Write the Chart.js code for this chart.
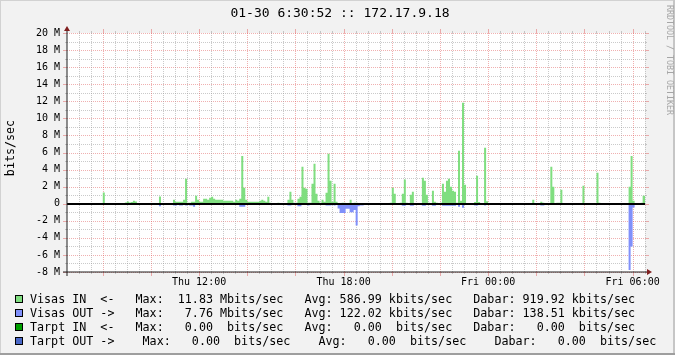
<!DOCTYPE html>
<html>
<head>
<meta charset="utf-8">
<script src="https://cdn.jsdelivr.net/npm/chart.js@4.4.1/dist/chart.umd.min.js"></script>
<style>
  html, body { margin: 0; padding: 0; background: #f2f2f2; }
  #wrap { width: 675px; height: 355px; position: relative; }
  canvas { display: block; }
</style>
</head>
<body>
<div id="wrap"><canvas id="c" width="675" height="355"></canvas></div>
<script>
// ---- text ----
const chartTitle = '01-30 6:30:52 :: 172.17.9.18';
const yAxisTitle = 'bits/sec';
const watermark = 'RRDTOOL / TOBI OETIKER';

// ---- axes (x in minutes since Thu 00:00, y in Mbit/s) ----
const xTickValues = [720, 1080, 1440, 1800];
const xTickLabels = ['Thu 12:00', 'Thu 18:00', 'Fri 00:00', 'Fri 06:00'];
const yTickValues = [-8, -6, -4, -2, 0, 2, 4, 6, 8, 10, 12, 14, 16, 18, 20];
const yTickLabels = ['-8 M', '-6 M', '-4 M', '-2 M', '0', '2 M', '4 M', '6 M', '8 M', '10 M', '12 M', '14 M', '16 M', '18 M', '20 M'];

// ---- series: step change points (minute, Mbit/s) ----
const inTimes = [390, 480, 485, 535, 540, 545, 550, 555, 560, 565, 620, 625,
  655, 660, 680, 685, 690, 700, 710, 715, 720, 730, 740, 745, 750, 755, 760, 780, 805, 810, 815, 820, 825, 830, 835, 840,
  870, 875, 880, 885, 890, 895, 900, 915, 920,
  940, 945, 950, 955, 965, 970, 975, 980, 985, 990, 1000, 1005, 1010, 1015, 1020, 1025, 1030, 1035, 1040, 1045, 1050, 1055, 1060,
  1065, 1075, 1085, 1095, 1100, 1105, 1115,
  1195, 1200, 1205, 1210, 1220, 1225, 1230, 1235, 1240, 1245, 1250, 1255,
  1275, 1280, 1285, 1290, 1295, 1300, 1305, 1310, 1315, 1320, 1325, 1330, 1335, 1340, 1345, 1350, 1355, 1360, 1365, 1370, 1375, 1380, 1385,
  1405, 1410, 1415, 1420, 1430, 1435, 1440,
  1550, 1555, 1570, 1575, 1580, 1595, 1600, 1605, 1610, 1620, 1625,
  1675, 1680, 1710, 1715, 1720,
  1790, 1795, 1800, 1805, 1820, 1825, 1835];
const inValues = [0, 1.3, 0, 0.15, 0.25, 0.15, 0.2, 0.35, 0.25, 0, 0.85, 0,
  0.47, 0.23, 0.47, 2.92, 0.12, 0.23, 0.94, 0.47, 0.23, 0.58, 0.47, 0.7, 0.82, 0.58, 0.47, 0.35, 0.23, 0.47, 0.35, 0.58, 5.6, 1.87, 0.47, 0.23,
  0.35, 0.47, 0.35, 0.23, 0.82, 0.12, 0, 0.12, 0,
  0.47, 1.4, 0.47, 0.1, 0.58, 0.82, 4.33, 1.87, 1.75, 0.12, 2.34, 4.68, 1.17, 0.35, 0.12, 0.47, 0.23, 1.29, 5.85, 2.69, 0.23, 2.34, 0.23,
  0, 0.12, 0, 0.47, 0, 0.12, 0,
  0.12, 1.87, 1.17, 0, 0.12, 1.17, 2.85, 0.12, 0, 1.05, 1.4, 0,
  3.04, 2.69, 1.05, 0.12, 0, 1.52, 0.23, 0.1, 0, 0.12, 2.34, 1.4, 2.69, 2.92, 1.99, 1.52, 1.4, 0.1, 6.2, 0.35, 11.83, 2.22, 0,
  0.2, 3.27, 0.2, 0, 6.55, 0.3, 0,
  0.47, 0, 0.23, 0.12, 0, 4.33, 1.99, 0, 0.12, 1.64, 0,
  2.1, 0, 3.63, 0.12, 0,
  1.99, 5.6, 0.35, 0, 0.12, 0.92, 0.92];

const outTimes = [390, 400, 475, 485, 535, 565, 620, 625,
  655, 665, 670, 680, 685, 690, 695, 705, 710, 720,
  820, 835, 870, 875, 880, 885, 890, 895, 905, 920,
  940, 950, 965, 975, 990, 995, 1035, 1050, 1055, 1060,
  1065, 1070, 1085, 1095, 1105, 1110, 1115, 1120, 1130,
  1225, 1235, 1245, 1255, 1275, 1285, 1300, 1310, 1325, 1360,
  1365, 1370, 1375, 1380, 1405, 1415, 1430, 1435,
  1570, 1580, 1675, 1680, 1710, 1715,
  1790, 1795, 1800, 1805, 1820, 1835];
const outValues = [0.15, 0, 0.15, 0, 0.15, 0, 0.3, 0,
  0.2, 0, 0.2, 0, 0.2, 0, 0.2, 0.35, 0.15, 0,
  0.35, 0, 0.15, 0, 0.15, 0, 0.15, 0, 0.15, 0,
  0.2, 0, 0.3, 0, 0.2, 0, 0.2, 0, 0.2, 0,
  0.55, 1.1, 0.6, 1.0, 0.75, 2.55, 0.3, 0.2, 0,
  0.23, 0, 0.23, 0, 0.23, 0, 0.23, 0, 0.23, 0,
  0.35, 0, 0.47, 0, 0.2, 0, 0.2, 0,
  0.2, 0, 0.15, 0, 0.15, 0,
  7.76, 5.0, 0.45, 0, 0.14, 0.14];

// ---- legend ----
const legendNames = ['Visas IN  <-', 'Visas OUT ->', 'Tarpt IN  <-', 'Tarpt OUT ->'];
const legendMax = ['11.83', '7.76', '0.00', '0.00'];
const legendMaxUnit = ['Mbits/sec', 'Mbits/sec', ' bits/sec', ' bits/sec'];
const legendAvg = ['586.99', '122.02', '0.00', '0.00'];
const legendAvgUnit = ['kbits/sec', 'kbits/sec', ' bits/sec', ' bits/sec'];
const legendLast = ['919.92', '138.51', '0.00', '0.00'];
const legendLastUnit = ['kbits/sec', 'kbits/sec', ' bits/sec', ' bits/sec'];
const legendShift = [0, 0, 0, 1];
const legendColors = ['#80de80', '#8090fa', '#00a000', '#4a68c8'];

const X_MIN = 390.87, X_MAX = 1830.87;
const MONO = '"DejaVu Sans Mono", monospace';
const GRID = 'rgba(150,150,150,0.5)';
const MGRID = 'rgba(222,79,79,0.45)';

function seg(ctx, x1, y1, x2, y2) { ctx.beginPath(); ctx.moveTo(x1, y1); ctx.lineTo(x2, y2); ctx.stroke(); }

const rrdPlugin = {
  id: 'rrd',
  beforeDraw(chart) {
    const { ctx, chartArea: a } = chart;
    const W = chart.width, H = chart.height;
    ctx.save();
    ctx.fillStyle = '#f2f2f2'; ctx.fillRect(0, 0, W, H);
    ctx.fillStyle = '#d2d2d2'; ctx.fillRect(0, 0, W, 1); ctx.fillRect(0, 0, 1, H);
    ctx.fillStyle = '#c6c6c6'; ctx.fillRect(W - 2, 0, 2, H);
    ctx.fillStyle = '#9e9e9e'; ctx.fillRect(0, H - 2, W, 2);
    ctx.fillStyle = '#ffffff'; ctx.fillRect(a.left, a.top, a.right - a.left, a.bottom - a.top);
    ctx.restore();
  },
  beforeDatasetsDraw(chart) {
    const { ctx, chartArea: a } = chart;
    const xs = chart.scales.x, ys = chart.scales.y;
    const L = a.left, R = a.right, T = a.top, B = a.bottom;
    ctx.save();
    ctx.lineWidth = 1;
    // horizontal grid
    for (let v = ys.min; v <= ys.max; v += 1) {
      const y = Math.round(ys.getPixelForValue(v)) + 0.5;
      const major = v % 2 === 0;
      const t = major ? 4 : 2;
      ctx.strokeStyle = major ? MGRID : GRID;
      ctx.setLineDash([]);
      seg(ctx, L - t, y, L, y); seg(ctx, R, y, R + t, y);
      ctx.setLineDash([1, 1]);
      seg(ctx, L, y, R, y);
    }
    // vertical grid
    for (let m = Math.ceil(xs.min / 30) * 30; m <= xs.max; m += 30) {
      const x = Math.round(xs.getPixelForValue(m)) + 0.5;
      const major = m % 120 === 0;
      const t = major ? 4 : 2;
      ctx.strokeStyle = major ? MGRID : GRID;
      ctx.setLineDash([]);
      seg(ctx, x, B, x, B + t); seg(ctx, x, T - t, x, T);
      ctx.setLineDash([1, 1]);
      seg(ctx, x, T, x, B);
    }
    ctx.restore();
  },
  afterDatasetsDraw(chart) {
    const { ctx, chartArea: a } = chart;
    const ys = chart.scales.y;
    const L = a.left, R = a.right, T = a.top, B = a.bottom;
    ctx.save();
    // zero line
    const y0 = Math.round(ys.getPixelForValue(0));
    ctx.strokeStyle = '#000'; ctx.lineWidth = 2;
    seg(ctx, L, y0, R, y0);
    // axes
    ctx.strokeStyle = '#1f1f1f'; ctx.lineWidth = 1;
    seg(ctx, L - 4, B, R + 4, B);
    seg(ctx, L, B + 4, L, T - 4);
    // arrows
    ctx.fillStyle = '#801f1f';
    ctx.beginPath(); ctx.moveTo(R + 2, B - 3); ctx.lineTo(R + 2, B + 3); ctx.lineTo(R + 7, B); ctx.closePath(); ctx.fill();
    ctx.beginPath(); ctx.moveTo(L - 3, T - 2); ctx.lineTo(L + 3, T - 2); ctx.lineTo(L, T - 7); ctx.closePath(); ctx.fill();
    ctx.restore();
  },
  afterDraw(chart) {
    const { ctx } = chart;
    ctx.save();
    ctx.fillStyle = '#000';
    // title
    ctx.font = '13px ' + MONO;
    ctx.textAlign = 'center'; ctx.textBaseline = 'middle';
    ctx.fillText(chartTitle, 340, 14);
    // y axis title
    ctx.save();
    ctx.translate(11, 148); ctx.rotate(-Math.PI / 2);
    ctx.font = '11.7px ' + MONO;
    ctx.fillText(yAxisTitle, 0, 0);
    ctx.restore();
    // watermark
    ctx.save();
    ctx.translate(669, 5); ctx.rotate(Math.PI / 2);
    ctx.font = '8.3px ' + MONO; ctx.fillStyle = '#a6a6a6';
    ctx.textAlign = 'left';
    ctx.fillText(watermark, 0, 0);
    ctx.restore();
    // legend
    ctx.font = '11.7px ' + MONO;
    ctx.textAlign = 'left'; ctx.textBaseline = 'middle';
    for (let i = 0; i < legendNames.length; i++) {
      const cy = 299 + i * 14;
      const gap = '   ' + ' '.repeat(legendShift[i]);
      const row = legendNames[i] + gap + 'Max:' + legendMax[i].padStart(7) + ' ' + legendMaxUnit[i] +
        gap + 'Avg:' + legendAvg[i].padStart(7) + ' ' + legendAvgUnit[i] +
        gap + 'Dabar:' + legendLast[i].padStart(7) + ' ' + legendLastUnit[i];
      ctx.fillStyle = legendColors[i];
      ctx.fillRect(15, cy - 4, 8, 8);
      ctx.strokeStyle = '#000'; ctx.lineWidth = 1;
      ctx.strokeRect(15.5, cy - 3.5, 7, 7);
      ctx.fillStyle = '#000';
      ctx.fillText(row, 30, cy + 0.5);
    }
    ctx.restore();
  }
};

const ds = (times, vals, sign, color, label) => ({
  label,
  data: times.map((t, i) => ({ x: t, y: sign * vals[i] })),
  stepped: true,
  fill: 'origin',
  backgroundColor: color,
  borderColor: 'rgba(0,0,0,0)',
  borderWidth: 0,
  pointRadius: 0,
  pointHoverRadius: 0
});

new Chart(document.getElementById('c'), {
  type: 'line',
  data: {
    datasets: [
      ds(inTimes, inValues, 1, legendColors[0], 'Visas IN'),
      ds(outTimes, outValues, -1, legendColors[1], 'Visas OUT')
    ]
  },
  options: {
    responsive: false,
    animation: false,
    devicePixelRatio: 1,
    events: [],
    layout: { padding: { left: 0, top: 33, right: 30, bottom: 0 } },
    plugins: { legend: { display: false }, tooltip: { enabled: false }, title: { display: false } },
    scales: {
      x: {
        type: 'linear', min: X_MIN, max: X_MAX,
        afterFit(s) { s.height = 83; },
        afterBuildTicks(s) { s.ticks = xTickValues.map(v => ({ value: v })); },
        grid: { display: false, drawTicks: false },
        border: { display: false },
        ticks: {
          autoSkip: false, maxRotation: 0, padding: 4, color: '#000',
          font: { family: MONO, size: 10 },
          callback: (v, i) => xTickLabels[i]
        }
      },
      y: {
        type: 'linear', min: -8, max: 20,
        afterFit(s) { s.width = 67; },
        afterBuildTicks(s) { s.ticks = yTickValues.map(v => ({ value: v })); },
        grid: { display: false, drawTicks: false },
        border: { display: false },
        ticks: {
          autoSkip: false, padding: 7, color: '#000',
          font: { family: MONO, size: 10 },
          callback: (v, i) => yTickLabels[i]
        }
      }
    }
  },
  plugins: [rrdPlugin]
});
</script>
</body>
</html>
